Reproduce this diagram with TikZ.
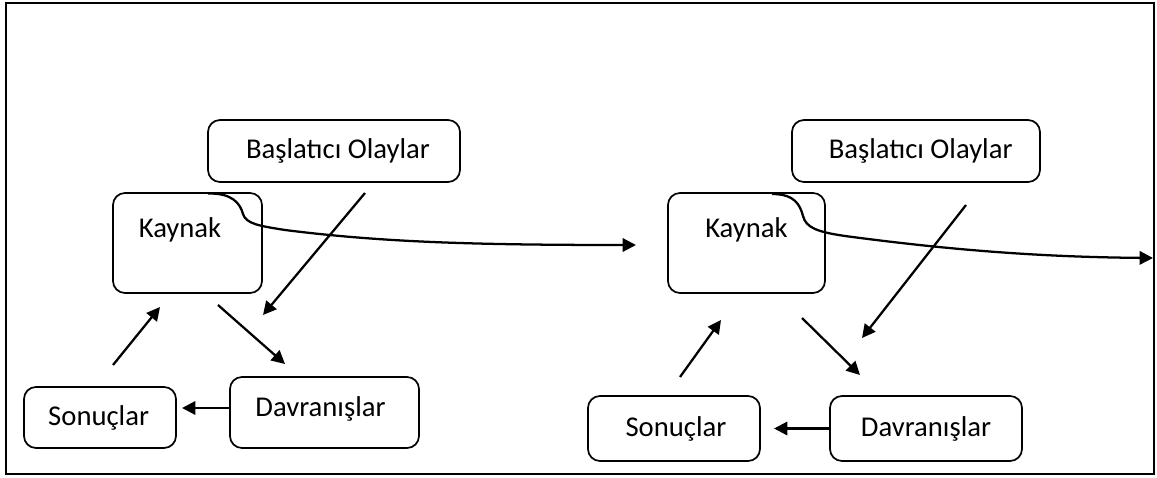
\documentclass[tikz,border=0pt]{standalone}
\usepackage{fontspec}
\setmainfont{Carlito}
\usetikzlibrary{arrows.meta}
\begin{document}
\begin{tikzpicture}[x=0.75pt,y=-0.75pt,
  box/.style={draw=black,line width=1.3pt,rounded corners=9pt,fill=white},
  lbl/.style={font=\fontsize{21.5}{25}\selectfont},
  arr/.style={line width=1.7pt,-{Triangle[length=10pt,width=10pt]}},
  frame/.style={draw=black,line width=1.9pt}]
\useasboundingbox (0,0) rectangle (1157,478);
\draw[frame] (6,3) rectangle (1154,474);

% left group
\node[box,minimum width=189pt,minimum height=46.5pt,label={[lbl,xshift=3pt]center:Başlatıcı Olaylar}] (b1) at (334,151) {};
\node[box,minimum width=111.75pt,minimum height=75pt,label={[lbl,xshift=-5.6pt,yshift=10pt]center:Kaynak}] (k1) at (187.5,243) {};
\node[box,minimum width=114pt,minimum height=45.75pt,label={[lbl,xshift=-1pt,yshift=-0.5pt]center:Sonuçlar}] (s1) at (100,417.5) {};
\node[box,minimum width=141.75pt,minimum height=53.25pt,label={[lbl,xshift=-3pt,yshift=3pt]center:Davranışlar}] (d1) at (324.5,412.5) {};

% right group
\node[box,minimum width=186pt,minimum height=46.5pt,label={[lbl,xshift=3.5pt]center:Başlatıcı Olaylar}] (b2) at (916,151) {};
\node[box,minimum width=117.75pt,minimum height=75pt,label={[lbl,yshift=10pt]center:Kaynak}] (k2) at (746.5,243) {};
\node[box,minimum width=129pt,minimum height=48.75pt,label={[lbl,xshift=1.5pt]center:Sonuçlar}] (s2) at (674,428.5) {};
\node[box,minimum width=144pt,minimum height=48.75pt,label={[lbl]center:Davranışlar}] (d2) at (926,428.5) {};

% arrow endpoints
\coordinate (b1s) at (365,193);  \coordinate (b1e) at (263,315);
\coordinate (k1s) at (218,305);  \coordinate (k1e) at (285,364);
\coordinate (s1s) at (113,365);  \coordinate (s1e) at (160,307);
\coordinate (d1s) at (d1.west |- 0,408); \coordinate (d1e) at (182,408);
\coordinate (c1s) at (208,193.5); \coordinate (c1e) at (636,245);

\coordinate (b2s) at (966,205);  \coordinate (b2e) at (862,338);
\coordinate (k2s) at (802,318);  \coordinate (k2e) at (860,375);
\coordinate (s2s) at (680,377);  \coordinate (s2e) at (721,320);
\coordinate (d2s) at (d2.west);  \coordinate (d2e) at (774,428.5);
\coordinate (c2s) at (772,194);  \coordinate (c2e) at (1153,258);

\draw[arr] (b1s) -- (b1e);
\draw[arr] (k1s) -- (k1e);
\draw[arr] (s1s) -- (s1e);
\draw[arr] (d1s) -- (d1e);
\draw[arr] (c1s) .. controls (232,193) and (240,203) .. (243,214)
  .. controls (246,224) and (260,226) .. (285,230)
  .. controls (380,242) and (470,245) .. (c1e);

\draw[arr] (b2s) -- (b2e);
\draw[arr] (k2s) -- (k2e);
\draw[arr] (s2s) -- (s2e);
\draw[arr] (d2s) -- (d2e);
\draw[arr] (c2s) .. controls (795,194) and (800,205) .. (803,216)
  .. controls (806,228) and (818,232) .. (845,236)
  .. controls (950,250) and (1040,257) .. (c2e);
\end{tikzpicture}
\end{document}
